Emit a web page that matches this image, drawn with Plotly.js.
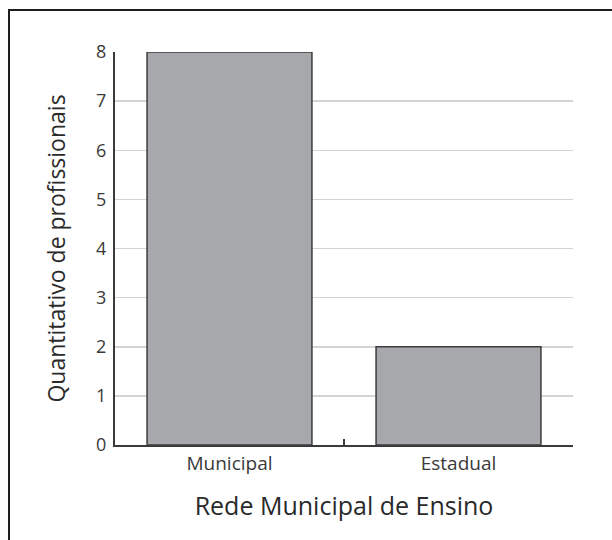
<!DOCTYPE html>
<html>
<head>
<meta charset="utf-8">
<script src="https://cdn.plot.ly/plotly-3.0.1.min.js"></script>
<style>html,body{margin:0;padding:0;background:#fff;}#chart{width:612px;height:540px;}</style>
</head>
<body>
<div id="chart"></div>
<script>
var categories = ["Municipal", "Estadual"];
var values = [8, 2];
var yTickValues = [0, 1, 2, 3, 4, 5, 6, 7, 8];
var xTitle = "Rede Municipal de Ensino";
var yTitle = "Quantitativo de profissionais";

var W = 612, H = 540;
var L = 115, R = 39, T = 52, B = 95;
var pw = W - L - R, ph = H - T - B;
function px(x) { return (x - L) / pw; }
function py(y) { return (H - B - y) / ph; }

var font = "'Open Sans', 'Liberation Sans', sans-serif";

var trace = {
  type: "bar",
  x: categories,
  y: values,
  marker: { color: "#a7a8ab", line: { color: "#3c3c3c", width: 1.5 } },
  hoverinfo: "none"
};

var layout = {
  width: W, height: H,
  margin: { l: L, r: R, t: T, b: B, pad: 0 },
  paper_bgcolor: "#ffffff",
  plot_bgcolor: "#ffffff",
  bargap: 0.28,
  showlegend: false,
  font: { family: font, color: "#333333" },
  xaxis: {
    type: "category",
    showline: true, linecolor: "#3a3a3a", linewidth: 2,
    ticks: "inside", tickson: "boundaries", ticklen: 6, tickwidth: 1.5, tickcolor: "#3a3a3a",
    showgrid: false, zeroline: false,
    tickfont: { size: 19, color: "#3a3a3a", family: font },
    title: { text: xTitle, font: { size: 25, color: "#2a2a2a", family: font }, standoff: 23 },
    automargin: false
  },
  yaxis: {
    range: [0, 8],
    tickvals: yTickValues,
    showline: true, linecolor: "#3a3a3a", linewidth: 2,
    ticks: "", showgrid: true, gridcolor: "#d4d4d4", gridwidth: 1.5,
    zeroline: false,
    ticklabelstandoff: 3,
    tickfont: { size: 18, color: "#3a3a3a", family: font },
    title: { text: yTitle, font: { size: 23, color: "#2a2a2a", family: font }, standoff: 24 },
    automargin: false
  },
  shapes: [
    { type: "rect", xref: "paper", yref: "paper",
      x0: px(9), x1: px(630), y0: py(560), y1: py(10),
      line: { color: "#1e1e1e", width: 2 }, fillcolor: "rgba(0,0,0,0)", layer: "below" }
  ]
};

Plotly.newPlot("chart", [trace], layout, { displayModeBar: false, staticPlot: true });
</script>
</body>
</html>
